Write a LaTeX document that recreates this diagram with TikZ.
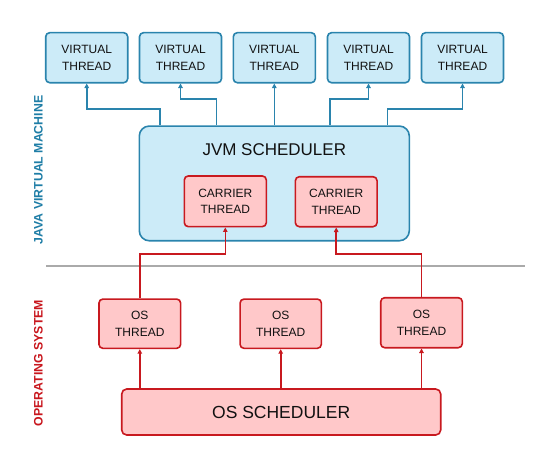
\documentclass[tikz,border=0pt]{standalone}
\usepackage{fontspec}
\setmainfont{Liberation Sans}
\usetikzlibrary{arrows.meta}
\definecolor{bfill}{HTML}{CCEBF8}
\definecolor{bline}{HTML}{2A84AD}
\definecolor{btext}{HTML}{1E7DA6}
\definecolor{rfill}{HTML}{FFC8C9}
\definecolor{rline}{HTML}{C8191F}
\definecolor{rtext}{HTML}{C8161D}
\definecolor{gline}{HTML}{AAAAAA}
\definecolor{ink}{HTML}{111111}
\tikzset{
  small/.style={font=\fontsize{12}{16.7}\selectfont, align=center, text=ink, minimum width=82pt, minimum height=50pt, inner sep=0pt, rounded corners=4pt, line width=1.6pt},
  vt/.style={small, draw=bline, fill=bfill},
  rt/.style={small, draw=rline, fill=rfill},
  barr/.style={draw=bline, line width=1.6pt, -{Triangle[length=4.5pt,width=4.5pt]}},
  rarr/.style={draw=rline, line width=1.6pt, -{Triangle[length=4.5pt,width=4.5pt]}},
  side/.style={rotate=90, font=\fontsize{12.3}{14}\selectfont\bfseries, inner sep=0pt}
}
\begin{document}
\begin{tikzpicture}[x=1pt,y=-1pt]
\useasboundingbox (0,0) rectangle (535,460);
% virtual threads
\node[vt] (vt1) at (86.7,57.7) {VIRTUAL\\THREAD};
\node[vt] (vt2) at (180.5,57.7) {VIRTUAL\\THREAD};
\node[vt] (vt3) at (274.3,57.7) {VIRTUAL\\THREAD};
\node[vt] (vt4) at (368.5,57.7) {VIRTUAL\\THREAD};
\node[vt] (vt5) at (462.5,57.7) {VIRTUAL\\THREAD};
% JVM scheduler
\node[draw=bline, fill=bfill, line width=1.6pt, rounded corners=10pt, minimum width=270pt, minimum height=114.7pt, inner sep=0pt] (jvm) at (274.3,183.4) {};
\node[font=\fontsize{17}{20}\selectfont, text=ink] (jvmt) at (274.3,150) {JVM SCHEDULER};
\node[rt, minimum height=50.7pt] (ct1) at (225.3,201.3) {CARRIER\\THREAD};
\node[rt, minimum height=50pt, minimum width=81.7pt] (ct2) at (336.2,201.7) {CARRIER\\THREAD};
% separator
\coordinate (sepl) at (46,266);
\coordinate (sepr) at (525,266);
\draw[gline, line width=1.4pt] (sepl) -- (sepr);
% OS threads
\node[rt, minimum height=49.3pt, minimum width=81.7pt] (ot1) at (139.8,323.7) {OS\\THREAD};
\node[rt, minimum height=49.3pt, minimum width=81.3pt] (ot2) at (280.7,323.7) {OS\\THREAD};
\node[rt, minimum height=50pt, minimum width=81.6pt] (ot3) at (421.5,322.7) {OS\\THREAD};
% OS scheduler
\node[draw=rline, fill=rfill, line width=1.6pt, rounded corners=5pt, minimum width=319pt, minimum height=46pt, inner sep=0pt, font=\fontsize{17.5}{20}\selectfont, text=ink] (oss) at (281.2,412) {OS SCHEDULER};
% side labels
\node[side, text=btext] (jvml) at (38.3,170) {JAVA VIRTUAL MACHINE};
\node[side, text=rtext] (osl) at (38.3,363) {OPERATING SYSTEM};
% JVM -> virtual threads
\draw[barr] ([xshift=21.4pt]jvm.north west) -- ++(0,-16) -| (vt1.south);
\draw[barr] ([xshift=78pt]jvm.north west) -- ++(0,-26) -| (vt2.south);
\draw[barr] (jvm.north) -- (vt3.south);
\draw[barr] ([xshift=191.7pt]jvm.north west) -- ++(0,-26) -| (vt4.south);
\draw[barr] ([xshift=249pt]jvm.north west) -- ++(0,-16) -| (vt5.south);
% OS threads -> carrier threads
\draw[rarr] (ot1.north) -- ++(0,-44) -| (ct1.south);
\draw[rarr] (ot3.north) -- ++(0,-42.7) -| (ct2.south);
% OS scheduler -> OS threads
\draw[rarr] (oss.north -| ot1.south) -- (ot1.south);
\draw[rarr] (oss.north -| ot2.south) -- (ot2.south);
\draw[rarr] (oss.north -| ot3.south) -- (ot3.south);
\end{tikzpicture}
\end{document}
